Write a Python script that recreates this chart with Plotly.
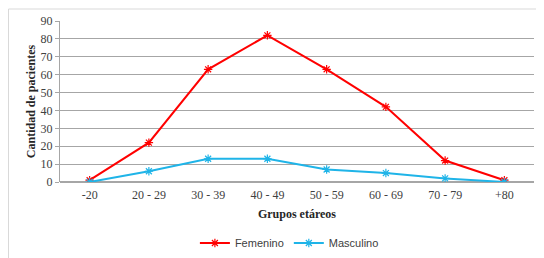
import plotly.graph_objects as go

grupos = ["-20", "20 - 29", "30 - 39", "40 - 49", "50 - 59", "60 - 69", "70 - 79", "+80"]
femenino = [1, 22, 63, 82, 63, 42, 12, 1]
masculino = [0, 6, 13, 13, 7, 5, 2, 0]
y_ticks = [0, 10, 20, 30, 40, 50, 60, 70, 80, 90]

fig = go.Figure()
fig.add_trace(go.Scatter(x=grupos, y=femenino, name="Femenino", mode="lines+markers",
                         line=dict(color="#ff0000", width=2),
                         marker=dict(symbol="asterisk-open", size=7, color="#ff0000",
                                     line=dict(color="#ff0000", width=1.2))))
fig.add_trace(go.Scatter(x=grupos, y=masculino, name="Masculino", mode="lines+markers",
                         line=dict(color="#1fb4e8", width=2),
                         marker=dict(symbol="asterisk-open", size=7, color="#1fb4e8",
                                     line=dict(color="#1fb4e8", width=1.2))))

axis_font = dict(family="Liberation Serif, Times New Roman, serif", size=12, color="#404040")
title_font = dict(family="Liberation Serif, Times New Roman, serif", size=12, color="#262626")

fig.update_layout(
    width=536, height=250,
    margin=dict(l=52, r=10, t=13, b=76, autoexpand=False),
    paper_bgcolor="white", plot_bgcolor="white",
    showlegend=True,
    legend=dict(orientation="h", xref="container", yref="container",
                x=0.525, xanchor="center", y=0.06, yanchor="middle",
                font=dict(family="Liberation Sans, Arial, sans-serif", size=11, color="#404040"),
                itemwidth=30, tracegroupgap=0),
    xaxis=dict(type="category", range=[-0.5, 7.5], showgrid=False, showline=False,
               tickfont=axis_font, ticks="", automargin=False, ticklabelstandoff=4,
               title=dict(text="<b>Grupos etáreos</b>", font=title_font, standoff=8)),
    yaxis=dict(range=[0, 90], tickvals=y_ticks, showgrid=True, gridcolor="#a6a6a6", gridwidth=1,
               showline=True, linecolor="#a6a6a6", linewidth=1, ticks="outside", ticklen=4,
               tickcolor="#a6a6a6", tickfont=axis_font, zeroline=True, zerolinecolor="#a6a6a6",
               automargin=False,
               title=dict(text="<b>Cantidad de pacientes</b>", font=title_font, standoff=2)),
    shapes=[dict(type="rect", xref="paper", yref="paper", x0=-0.1086, x1=1.0084, y0=-0.6, y1=1.0745,
                 line=dict(color="#d9d9d9", width=1), layer="below")],
)

fig.write_html("out.html")
